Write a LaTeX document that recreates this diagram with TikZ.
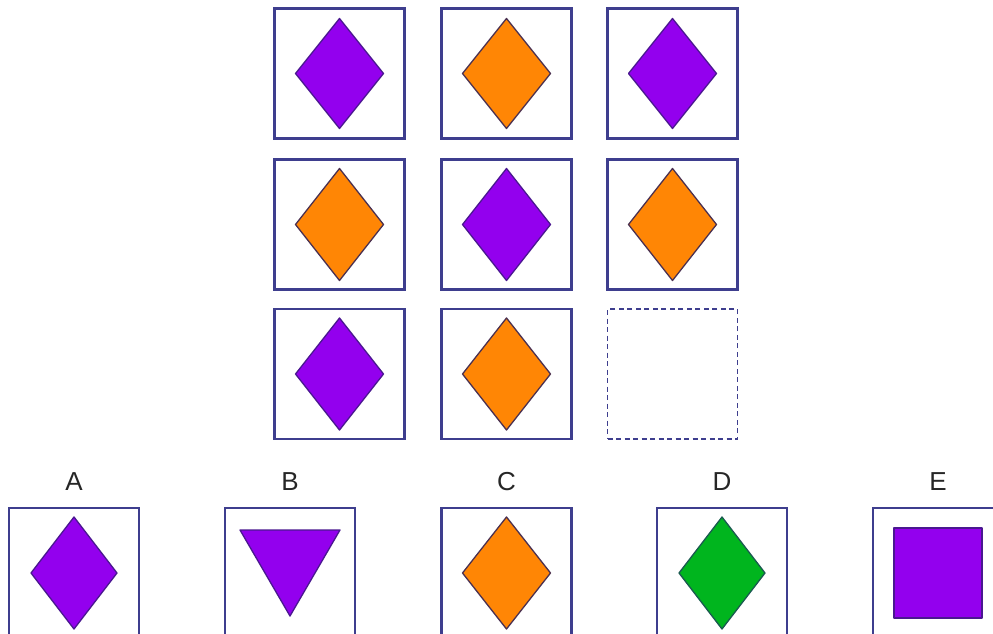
\documentclass[tikz,border=0pt]{standalone}
\usepackage{fontspec}
\setmainfont{Liberation Sans}
\usetikzlibrary{calc}
\begin{document}
\begin{tikzpicture}[x=1pt,y=-1pt,
  cell/.style={draw=boxblue,line width=2.3pt,minimum width=130pt,minimum height=130pt,inner sep=0pt,fill=white},
  blank/.style={cell,dash pattern=on 5pt off 3.5pt,line width=1.6pt},
  lbl/.style={font=\fontsize{26}{28}\selectfont,inner sep=0pt,text=black!85},
  pur/.style={fill=vio,draw=vioedge,line width=1.3pt,line join=round},
  org/.style={fill=orng,draw=orngedge,line width=1.3pt,line join=round},
  grnshape/.style={fill=grnc,draw=grnedge,line width=1.3pt,line join=round}]
\definecolor{boxblue}{HTML}{3E3E8E}
\definecolor{vio}{HTML}{9300EE}
\definecolor{vioedge}{HTML}{4A1890}
\definecolor{orng}{HTML}{FF8605}
\definecolor{orngedge}{HTML}{4A3050}
\definecolor{grnedge}{HTML}{1A5A50}
\definecolor{grnc}{HTML}{00B51E}
\useasboundingbox (0,0) rectangle (993,634);
\clip (0,0) rectangle (993,634);
% grid
\node[cell] (r1c1) at (339.5,73.5) {};
\node[cell] (r1c2) at (506.5,73.5) {};
\node[cell] (r1c3) at (672.5,73.5) {};
\node[cell] (r2c1) at (339.5,224.5) {};
\node[cell] (r2c2) at (506.5,224.5) {};
\node[cell] (r2c3) at (672.5,224.5) {};
\node[cell] (r3c1) at (339.5,374) {};
\node[cell] (r3c2) at (506.5,374) {};
\node[blank] (r3c3) at (672.5,374) {};
\path[pur] ($(r1c1.center)+(0,-55)$) -- ++(44,55) -- ++(-44,55) -- ++(-44,-55) -- cycle;
\path[org] ($(r1c2.center)+(0,-55)$) -- ++(44,55) -- ++(-44,55) -- ++(-44,-55) -- cycle;
\path[pur] ($(r1c3.center)+(0,-55)$) -- ++(44,55) -- ++(-44,55) -- ++(-44,-55) -- cycle;
\path[org] ($(r2c1.center)+(0,-56)$) -- ++(44,56) -- ++(-44,56) -- ++(-44,-56) -- cycle;
\path[pur] ($(r2c2.center)+(0,-56)$) -- ++(44,56) -- ++(-44,56) -- ++(-44,-56) -- cycle;
\path[org] ($(r2c3.center)+(0,-56)$) -- ++(44,56) -- ++(-44,56) -- ++(-44,-56) -- cycle;
\path[pur] ($(r3c1.center)+(0,-56)$) -- ++(44,56) -- ++(-44,56) -- ++(-44,-56) -- cycle;
\path[org] ($(r3c2.center)+(0,-56)$) -- ++(44,56) -- ++(-44,56) -- ++(-44,-56) -- cycle;
% options
\node[cell] (oA) at (74,573) {};
\node[cell] (oB) at (290,573) {};
\node[cell] (oC) at (506.5,573) {};
\node[cell] (oD) at (722,573) {};
\node[cell] (oE) at (938,573) {};
\node[lbl] (lA) at (74,482) {A};
\node[lbl] (lB) at (290,482) {B};
\node[lbl] (lC) at (506.5,482) {C};
\node[lbl] (lD) at (722,482) {D};
\node[lbl] (lE) at (938,482) {E};
\path[pur] ($(oA.center)+(0,-56)$) -- ++(43,56) -- ++(-43,56) -- ++(-43,-56) -- cycle;
\path[pur] ($(oB.center)+(-50,-43)$) -- ++(100,0) -- ++(-50,86) -- cycle;
\path[org] ($(oC.center)+(0,-56)$) -- ++(44,56) -- ++(-44,56) -- ++(-44,-56) -- cycle;
\path[grnshape] ($(oD.center)+(0,-56)$) -- ++(43,56) -- ++(-43,56) -- ++(-43,-56) -- cycle;
\path[pur] ($(oE.center)+(-44,-45)$) rectangle ++(88,90);
\end{tikzpicture}
\end{document}
